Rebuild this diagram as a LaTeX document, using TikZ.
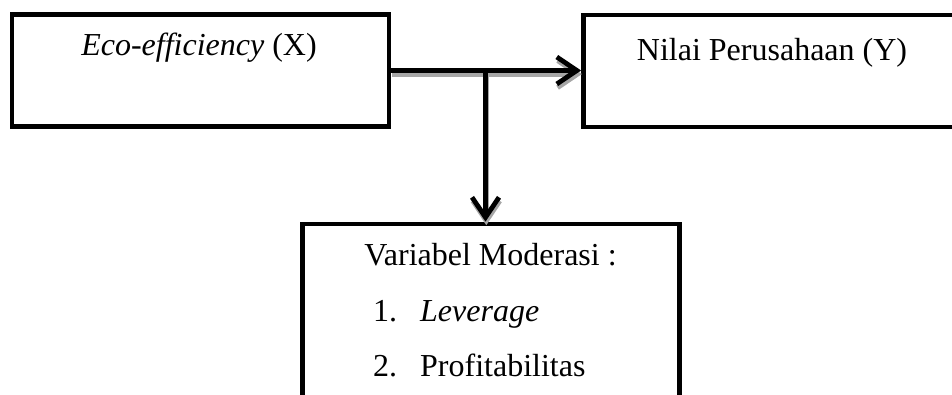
\documentclass[tikz,border=0pt]{standalone}
\usepackage{fontspec}
\setmainfont{Liberation Serif}
\usetikzlibrary{arrows.meta}
\begin{document}
\begin{tikzpicture}[x=1pt,y=-1pt]
	\tikzstyle{every node}+=[inner sep=0pt, font=\fontsize{32}{38}\selectfont]
	\tikzstyle{kotak}=[draw=black, line width=4.8pt, minimum width=377pt, minimum height=112pt]
	\tikzstyle{panah}=[line width=4.8pt, -{Straight Barb[length=20pt,width=27pt]}]
	\tikzstyle{bayang}=[draw=black!35, transform canvas={shift={(0.8pt,-3.6pt)}}]
	\useasboundingbox (0,0) rectangle (952,394);
	\node [kotak] (eco) at (200.5,70.5) {};
	\node [kotak] (nilai) at (772,71) {};
	\node [kotak, minimum height=246pt] (moder) at (491.25,347) {};
	\coordinate (cabang) at (485.5,70.5);
	\draw [panah, bayang] (eco.east) -- (eco.east -| nilai.west);
	\draw [panah, bayang] (cabang) -- (cabang |- moder.north);
	\draw [panah, black] (eco.east) -- (eco.east -| nilai.west);
	\draw [panah, black] (cabang) -- (cabang |- moder.north);
	\node [anchor=base] (ecoteks) at (199,55) {\textit{Eco-efficiency} (X)};
	\node [anchor=base] (nilaiteks) at (772,60.5) {Nilai Perusahaan (Y)};
	\node [anchor=base] (moderteks) at (490.5,265) {Variabel Moderasi :};
	\node [anchor=base west] (nomor1) at (373,321) {1.};
	\node [anchor=base west] (leverage) at (420,321) {\textit{Leverage}};
	\node [anchor=base west] (nomor2) at (373,376) {2.};
	\node [anchor=base west] (profit) at (420,376) {Profitabilitas};
\end{tikzpicture}
\end{document}
